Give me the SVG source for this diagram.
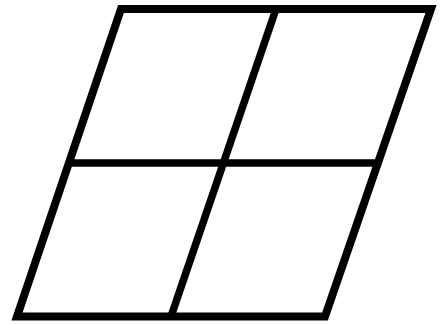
<svg xmlns="http://www.w3.org/2000/svg" width="446" height="324" viewBox="0 0 446 324">
<style>
.ln{fill:none;stroke:#000;stroke-linejoin:miter;stroke-linecap:butt}
</style>
<rect width="446" height="324" fill="#fff"/>
<g id="outline">
<polygon class="ln" stroke-width="8" points="121,9 431,9 325,316.5 17,316.5"/>
</g>
<g id="dividers">
<line class="ln" stroke-width="7.5" x1="69" y1="163" x2="378" y2="163"/>
<line class="ln" stroke-width="7.5" x1="276" y1="9" x2="171" y2="316.5"/>
</g>
</svg>
